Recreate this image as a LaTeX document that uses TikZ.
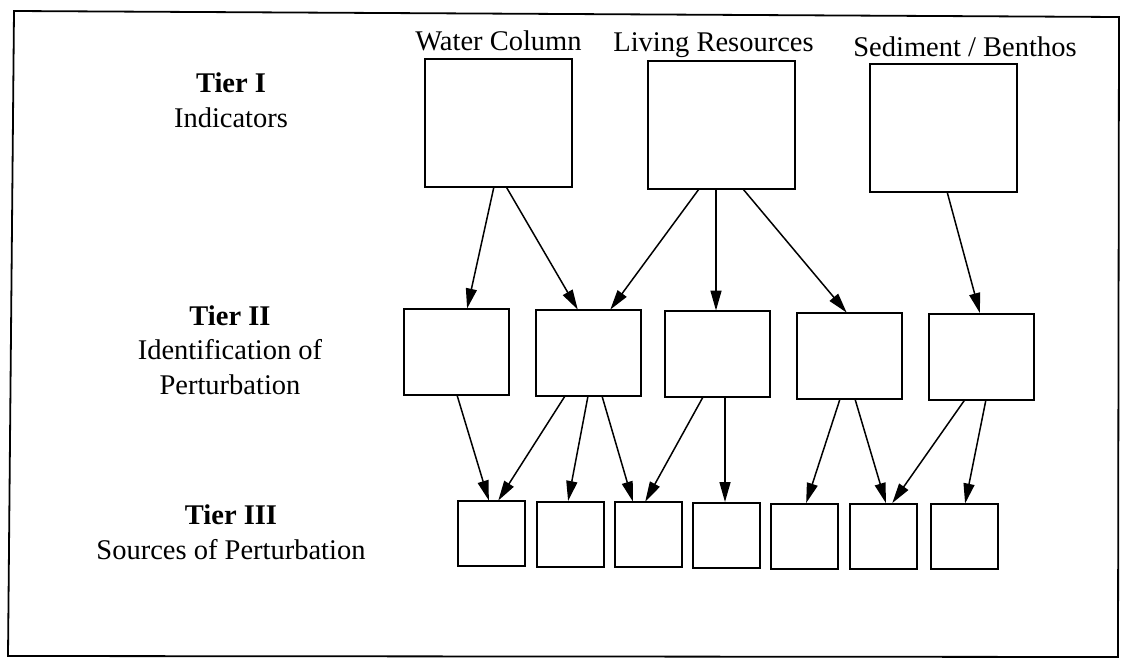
\documentclass[tikz,border=0pt]{standalone}
\usepackage{fontspec}
\setmainfont{Liberation Serif}
\usetikzlibrary{arrows.meta}

\begin{document}
\begin{tikzpicture}[x=1pt, y=-1pt,
  every node/.style={inner sep=0pt, outer sep=0pt},
  bigbox/.style={draw, line width=2pt, minimum width=147pt, minimum height=128pt},
  midbox/.style={draw, line width=2pt, minimum width=105pt, minimum height=86pt},
  smallbox/.style={draw, line width=2pt, minimum width=67pt, minimum height=65pt},
  head/.style={font=\fontsize{28.5}{33}\selectfont, anchor=base},
  tier/.style={font=\fontsize{28.5}{34.5}\selectfont, align=center, anchor=base},
  arr/.style={line width=1.5pt, -{Triangle[length=20pt, width=11pt]}, shorten >=0.5pt}
]
  \useasboundingbox (0,0) rectangle (1122,664);

  % outer frame
  \draw[line width=1.8pt] (14,11) -- (1119,17) -- (1118,657) -- (8,656) -- cycle;

  % tier captions on the left (anchored at the baseline of their last line)
  \node[tier] (capI)   at (231,127) {\textbf{Tier I}\\Indicators};
  \node[tier] (capII)  at (230,394) {\textbf{Tier II}\\Identification of\\Perturbation};
  \node[tier] (capIII) at (231,559) {\textbf{Tier III}\\Sources of Perturbation};

  % column headings
  \node[head] (hwc) at (498.5,50) {Water Column};
  \node[head] (hlr) at (713.5,51) {Living Resources};
  \node[head] (hsb) at (965,56)   {Sediment / Benthos};

  % Tier I: indicators
  \node[bigbox] (t1a) at (498.5,122.5) {};
  \node[bigbox] (t1b) at (721,125)     {};
  \node[bigbox] (t1c) at (943.5,127.5) {};

  % Tier II: identification of perturbation
  \node[midbox] (t2a) at (456,352)   {};
  \node[midbox] (t2b) at (588,353)   {};
  \node[midbox] (t2c) at (717.5,354) {};
  \node[midbox] (t2d) at (849,356)   {};
  \node[midbox] (t2e) at (981.5,356.5) {};

  % Tier III: sources of perturbation
  \node[smallbox] (t3a) at (491.5,533.5) {};
  \node[smallbox] (t3b) at (570,534)     {};
  \node[smallbox] (t3c) at (648.5,534.5) {};
  \node[smallbox] (t3d) at (726,535)     {};
  \node[smallbox] (t3e) at (804.5,536)   {};
  \node[smallbox] (t3f) at (883.5,536)   {};
  \node[smallbox] (t3g) at (964,536.5)   {};

  % Tier I -> Tier II
  \draw[arr] ([xshift=-4.5pt]t1a.south) -- ([xshift=11pt]t2a.north);
  \draw[arr] ([xshift=7.5pt]t1a.south)  -- ([xshift=-10pt]t2b.north);
  \draw[arr] ([xshift=-22pt]t1b.south)  -- ([xshift=22pt]t2b.north);
  \draw[arr] ([xshift=-5pt]t1b.south)   -- ([xshift=-1.5pt]t2c.north);
  \draw[arr] ([xshift=22pt]t1b.south)   -- ([xshift=-2pt]t2d.north);
  \draw[arr] ([xshift=3.5pt]t1c.south)  -- ([xshift=-1.5pt]t2e.north);

  % Tier II -> Tier III
  \draw[arr] ([xshift=1pt]t2a.south)    -- ([xshift=-2.5pt]t3a.north);
  \draw[arr] ([xshift=-23pt]t2b.south)  -- ([xshift=6.5pt]t3a.north);
  \draw[arr] ([xshift=0pt]t2b.south)    -- ([xshift=-2pt]t3b.north);
  \draw[arr] ([xshift=14pt]t2b.south)   -- ([xshift=-15.5pt]t3c.north);
  \draw[arr] ([xshift=-14.5pt]t2c.south) -- ([xshift=-3.5pt]t3c.north);
  \draw[arr] ([xshift=7.5pt]t2c.south)  -- ([xshift=-1pt]t3d.north);
  \draw[arr] ([xshift=-9pt]t2d.south)   -- ([xshift=1.5pt]t3e.north);
  \draw[arr] ([xshift=6pt]t2d.south)    -- ([xshift=2.5pt]t3f.north);
  \draw[arr] ([xshift=-16.5pt]t2e.south) -- ([xshift=8.5pt]t3f.north);
  \draw[arr] ([xshift=4.5pt]t2e.south)  -- ([xshift=1pt]t3g.north);
\end{tikzpicture}
\end{document}
